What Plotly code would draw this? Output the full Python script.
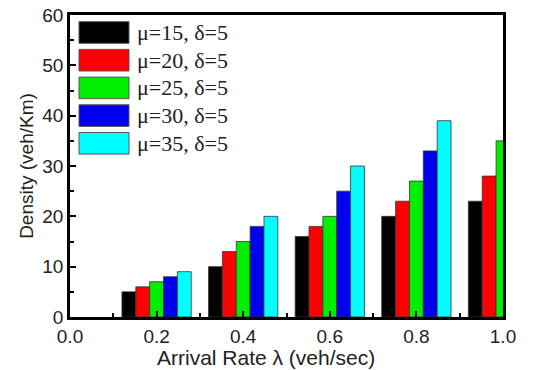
import plotly.graph_objects as go

arrival_rate = [0.2, 0.4, 0.6, 0.8, 1.0]
series_names = ["μ=15, δ=5", "μ=20, δ=5", "μ=25, δ=5", "μ=30, δ=5", "μ=35, δ=5"]
mu15 = [5, 10, 16, 20, 23]
mu20 = [6, 13, 18, 23, 28]
mu25 = [7, 15, 20, 27, 35]
mu30 = [8, 18, 25, 33, None]
mu35 = [9, 20, 30, 39, None]
series_values = [mu15, mu20, mu25, mu30, mu35]
colors = ["#000000", "#ff0000", "#00ee00", "#0000ee", "#00ffff"]

W, H = 537, 370
ML, MR, MT, MB = 70, 34, 15, 53
PW, PH = W - ML - MR, H - MT - MB

def px_x(p):
    return (p - ML) / PW

def px_y(p):
    return (H - MB - p) / PH

fig = go.Figure()
for name, vals, c in zip(series_names, series_values, colors):
    fig.add_trace(go.Bar(x=arrival_rate, y=vals, name=name,
                         marker=dict(color=c, line=dict(color="#333333", width=0.8)),
                         showlegend=False))

# custom legend (large swatches like the original)
shapes = []
annotations = []
top0, box_h, pitch = 21.7, 21.6, 27.7
for i, (name, c) in enumerate(zip(series_names, colors)):
    y0 = top0 + i * pitch
    shapes.append(dict(type="rect", xref="paper", yref="paper",
                       x0=px_x(79), x1=px_x(129), y0=px_y(y0 + box_h), y1=px_y(y0),
                       fillcolor=c, line=dict(color="#555555", width=1)))
    annotations.append(dict(xref="paper", yref="paper", x=px_x(135), y=px_y(y0 + box_h / 2),
                            text=name, showarrow=False, xanchor="left", yanchor="middle",
                            font=dict(family="Liberation Serif", size=22, color="#222222")))

tick_font = dict(family="Liberation Sans", size=19, color="#222222")
title_font_x = dict(family="Liberation Sans", size=21, color="#222222")
title_font_y = dict(family="Liberation Sans", size=19, color="#222222")

# x-axis title (placed slightly left of centre, as in the original)
annotations.append(dict(xref="paper", yref="paper", x=px_x(266), y=px_y(357),
                        text="Arrival Rate λ (veh/sec)", showarrow=False,
                        xanchor="center", yanchor="middle", font=title_font_x))

fig.update_layout(
    width=W, height=H,
    margin=dict(l=ML, r=MR, t=MT, b=MB, autoexpand=False),
    paper_bgcolor="white", plot_bgcolor="white",
    barmode="group", bargap=0.2, bargroupgap=0,
    shapes=shapes, annotations=annotations,
    xaxis=dict(range=[0, 1.0], tickvals=[0, 0.2, 0.4, 0.6, 0.8, 1.0],
               ticktext=["0.0", "0.2", "0.4", "0.6", "0.8", "1.0"],
               ticks="inside", ticklen=6, tickwidth=2, tickcolor="black",
               minor=dict(tickvals=[0.1, 0.3, 0.5, 0.7, 0.9], ticks="inside", ticklen=4, tickwidth=2, tickcolor="black"),
               showline=True, linewidth=2.5, linecolor="black", mirror=True,
               showgrid=False, zeroline=False, tickfont=tick_font),
    yaxis=dict(range=[0, 60], tickvals=[0, 10, 20, 30, 40, 50, 60],
               ticks="inside", ticklen=6, tickwidth=2, tickcolor="black",
               minor=dict(tickvals=[5, 15, 25, 35, 45, 55], ticks="inside", ticklen=4, tickwidth=2, tickcolor="black"),
               showline=True, linewidth=2.5, linecolor="black", mirror=True,
               showgrid=False, zeroline=False, tickfont=tick_font,
               title=dict(text="Density (veh/Km)", font=title_font_y, standoff=4)),
)

fig.write_html("out.html", config={"displayModeBar": False},
               post_script="document.body.style.margin='0';")
